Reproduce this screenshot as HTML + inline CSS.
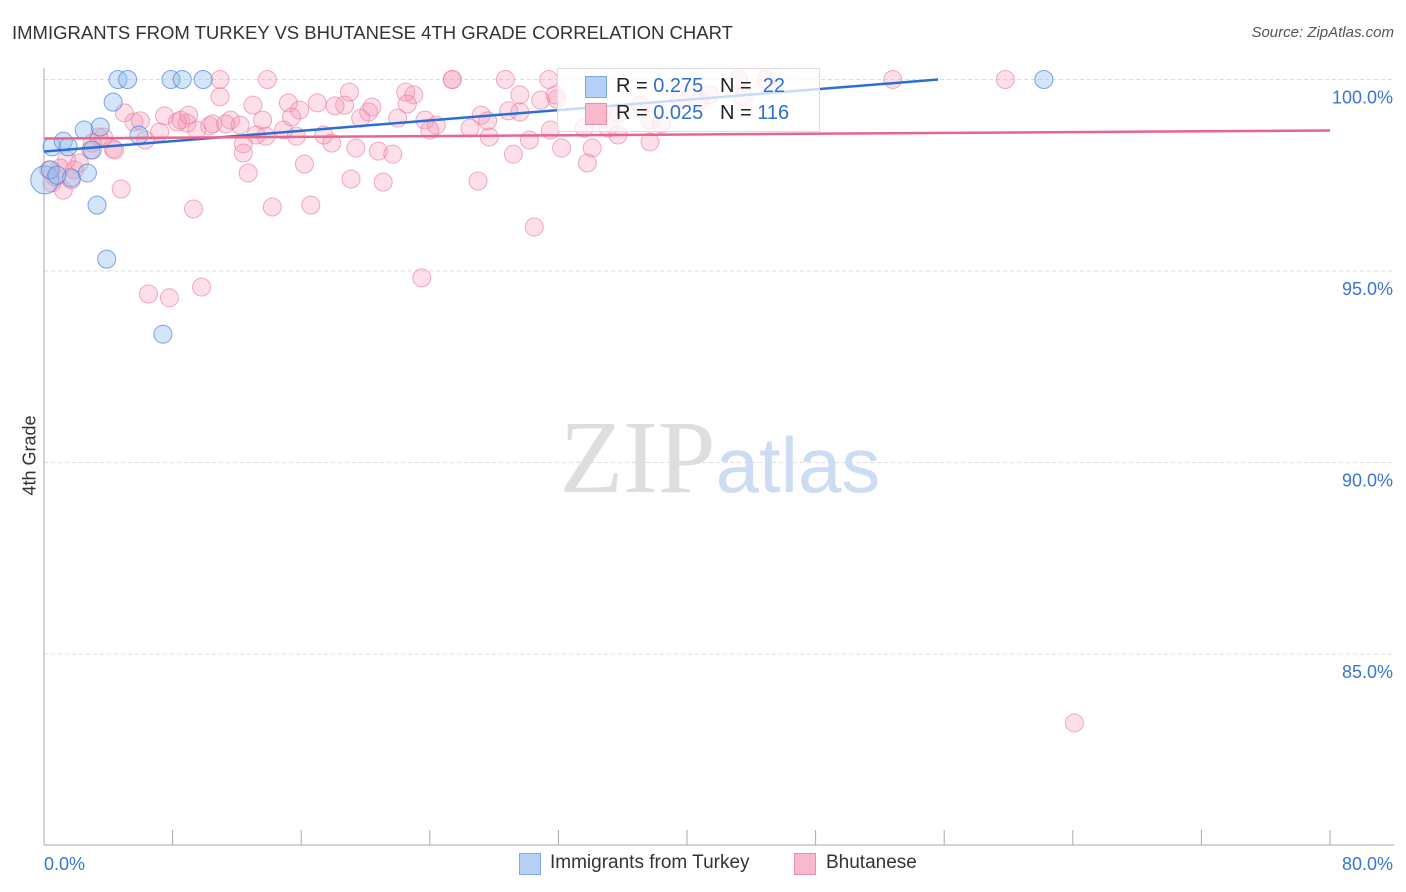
<!DOCTYPE html>
<html><head><meta charset="utf-8"><style>
body{margin:0;background:#fff;font-family:"Liberation Sans",sans-serif;}
#wrap{position:relative;width:1406px;height:892px;overflow:hidden;}
.t{position:absolute;white-space:nowrap;}
</style></head><body>
<div id="wrap">
<div class="t" style="left:12px;top:22px;font-size:18.5px;color:#333;">IMMIGRANTS FROM TURKEY VS BHUTANESE 4TH GRADE CORRELATION CHART</div>
<div class="t" style="right:12px;top:24px;font-size:15px;color:#555;font-style:italic;">Source: ZipAtlas.com</div>
<div class="t" style="left:-10px;top:445px;font-size:18px;color:#333;transform:rotate(-90deg);">4th Grade</div>
<svg id="plot" width="1406" height="892" style="position:absolute;left:0;top:0"></svg>
<div style="position:absolute;left:557px;top:68px;width:261px;height:62px;border:1px solid #ddd;background:rgba(255,255,255,0.75);">
 <div style="position:absolute;left:27px;top:7px;width:20px;height:20px;background:#b5d0f5;border:1px solid #7fa9e8;"></div>
 <div class="t" style="left:58px;top:6px;font-size:20px;color:#222;">R = <span style="color:#2f6fd0">0.275</span>&nbsp;&nbsp;&nbsp;N = <span style="color:#2f6fd0">&nbsp;22</span></div>
 <div style="position:absolute;left:27px;top:34px;width:20px;height:20px;background:#f7b9cb;border:1px solid #ec8fab;"></div>
 <div class="t" style="left:58px;top:33px;font-size:20px;color:#222;">R = <span style="color:#2f6fd0">0.025</span>&nbsp;&nbsp;&nbsp;N = <span style="color:#2f6fd0">116</span></div>
</div>
<div style="position:absolute;left:519px;top:853px;width:20px;height:20px;background:#b5d0f5;border:1px solid #7fa9e8;"></div>
<div class="t" style="left:550px;top:852px;font-size:19px;color:#333;">Immigrants from Turkey</div>
<div style="position:absolute;left:794px;top:853px;width:20px;height:20px;background:#f7b9cb;border:1px solid #ec8fab;"></div>
<div class="t" style="left:826px;top:852px;font-size:19px;color:#333;">Bhutanese</div>
</div>
<script>
const yTicks=[100,95,90,85];
const yTickLabels=["100.0%","95.0%","90.0%","85.0%"];
const xTickLabels=["0.0%","80.0%"];
const blueX=[0.5,1.2,1.5,1.7,2.7,2.5,3.5,3.0,3.3,3.9,4.3,4.6,5.2,5.9,7.9,8.6,9.9,7.4,62.2,0.05,0.4,0.8];
const blueY=[98.24,98.39,98.24,97.43,97.56,98.68,98.76,98.16,96.72,95.31,99.41,100,100,98.55,100,100,100,93.35,100,97.38,97.64,97.5];
const pinkX=[10.95,13.9,25.4,25.4,28.7,31.4,43.2,44.9,52.8,59.8,64.1,10.95,13.0,15.2,17.0,18.7,19.0,22.5,23.0,28.9,30.9,31.9,43.5,7.5,8.5,8.9,10.3,11.6,12.2,13.6,14.9,15.9,17.4,19.7,20.2,22.0,23.7,24.4,27.2,27.6,29.6,31.5,33.6,35.1,38.4,5.0,5.6,6.0,7.2,9.5,10.5,12.4,13.2,13.8,15.7,17.9,19.4,20.8,21.7,24.0,27.7,29.2,32.2,34.1,35.7,37.7,3.7,4.3,2.9,3.4,1.4,1.0,0.7,0.3,0.5,1.2,1.7,1.9,2.2,3.0,4.8,6.5,7.8,9.3,9.8,12.7,14.2,16.2,16.6,19.1,21.1,23.5,27.0,30.5,33.8,12.4,4.4,6.3,8.3,9.0,11.3,15.4,18.1,20.4,22.6,26.5,30.2,34.6,37.1,40.8,35.8,31.8,37.7,29.6,39.6,41.4];
const pinkY=[100,100,100,100,100,100,100,100,100,100,83.2,99.55,99.33,99.39,99.39,99.33,99.67,99.67,99.6,99.18,99.46,99.49,99.54,99.05,98.94,98.86,98.79,98.94,98.81,98.94,98.68,99.2,98.55,98.99,99.15,98.99,98.94,98.81,99.07,98.92,99.15,98.68,98.73,98.73,98.84,99.13,98.89,98.92,98.63,98.68,98.84,98.32,98.55,98.52,98.52,98.34,98.21,98.13,98.05,98.68,98.5,98.05,98.21,98.21,98.55,98.37,98.5,98.19,98.16,98.5,97.9,97.69,97.45,97.64,97.3,97.11,97.38,97.64,97.82,98.34,97.14,94.4,94.3,96.62,94.58,97.56,96.67,97.79,96.72,97.4,97.32,94.82,97.35,96.15,97.82,98.08,98.16,98.42,98.89,99.07,98.84,99.02,99.31,99.28,99.36,98.73,98.42,99.07,99.33,99.46,99.13,99.6,98.94,99.6,99.46,99.6];
const blueTrend=[98.12,0.0338];
const pinkTrend=[98.46,0.0026];
const X=v=>44+v*16.075, Y=v=>79.5+(100-v)*38.3;
const svg=document.getElementById('plot'),NS='http://www.w3.org/2000/svg';
function mk(tag,a,p){const e=document.createElementNS(NS,tag);for(const k in a)e.setAttribute(k,a[k]);(p||svg).appendChild(e);return e;}
yTicks.forEach((t,i)=>{
 const l=mk('line',{x1:44,x2:1394,y1:Y(t),y2:Y(t),stroke:'#ddd','stroke-dasharray':'4,3'});
 
 
 const tx=mk('text',{x:1393,y:Y(t)+24,'text-anchor':'end','font-size':18,fill:'#3a74d4','font-family':'Liberation Sans, sans-serif'});
 tx.textContent=yTickLabels[i];
 
 
});
const ax=mk('line',{x1:44,x2:44,y1:68,y2:845,stroke:'#aaa'});


const bx=mk('line',{x1:44,x2:1394,y1:845,y2:845,stroke:'#aaa'});


for(let i=0;i<=10;i++){const tk=mk('line',{x1:X(i*8),x2:X(i*8),y1:830,y2:845,stroke:'#aaa'});
 
 }
xTickLabels.forEach((s,i)=>{const tx=mk('text',{x:i?1393:44,y:870,'text-anchor':i?'end':'start','font-size':18,fill:'#3a74d4','font-family':'Liberation Sans, sans-serif'});tx.textContent=s;
 
 });
const wm=mk('text',{x:720,y:492,'text-anchor':'middle','font-size':104,'font-family':'Liberation Serif, serif'});
wm.innerHTML='<tspan fill="#dedede">ZIP</tspan><tspan fill="#ccdcf2" font-family="Liberation Sans, sans-serif" font-size="78">atlas</tspan>';


pinkX.forEach((x,i)=>{const c=mk('circle',{cx:X(x),cy:Y(pinkY[i]),r:9,fill:'rgba(244,150,180,0.3)',stroke:'rgba(232,120,155,0.6)','stroke-width':1});
 
 });
blueX.forEach((x,i)=>{const c=mk('circle',{cx:X(x),cy:Y(blueY[i]),r:i==19?14:9,fill:'rgba(150,190,240,0.4)',stroke:'rgba(70,130,220,0.7)','stroke-width':1});
 
 });
const bEnd=(100-blueTrend[0])/blueTrend[1];
const bl=mk('line',{x1:X(0),y1:Y(blueTrend[0]),x2:X(bEnd),y2:Y(100),stroke:'#2a6fd6','stroke-width':2.5});


const pl=mk('line',{x1:X(0),y1:Y(pinkTrend[0]),x2:X(80),y2:Y(pinkTrend[0]+80*pinkTrend[1]),stroke:'#e8668e','stroke-width':2.5});


</script>
</body></html>
